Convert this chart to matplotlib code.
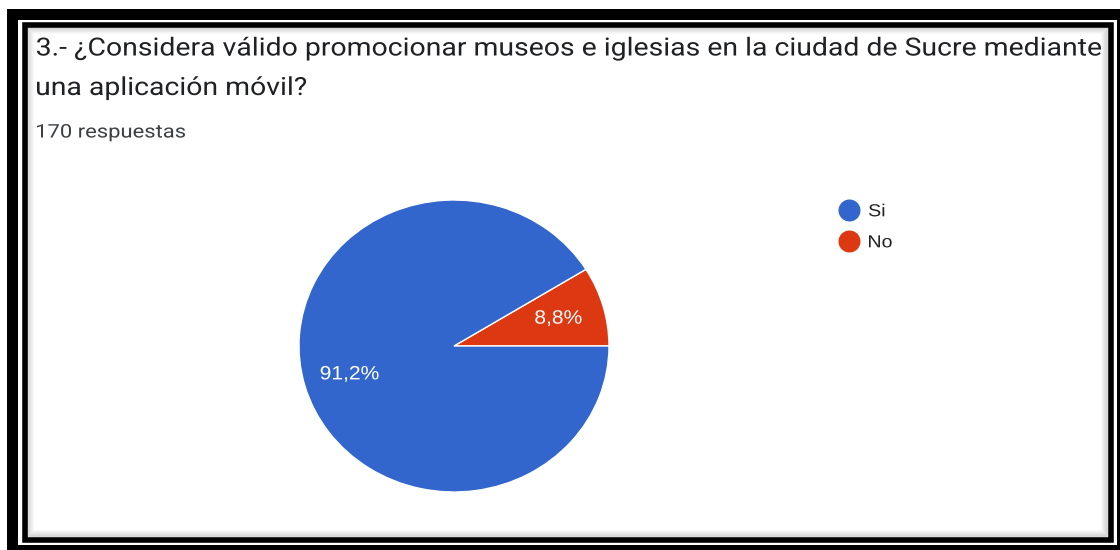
import matplotlib
matplotlib.use("Agg")
import numpy as np
import matplotlib.pyplot as plt
from matplotlib.patches import Rectangle, PathPatch
from matplotlib.textpath import TextPath
from matplotlib.font_manager import FontProperties
from matplotlib.transforms import Affine2D

plt.rcParams['font.family'] = ['Liberation Sans', 'DejaVu Sans']

# Daten der Umfrage
categories = ["Si", "No"]
values = [91.2, 8.8]
labels_pct = ["91,2%", "8,8%"]
colors = ["#3366cc", "#dc3912"]

title_lines = ["3.- ¿Considera válido promocionar museos e iglesias en la ciudad de Sucre mediante",
               "una aplicación móvil?"]
subtitle = "170 respuestas"

W, H = 1120, 550


# Text als Pfad, damit er horizontal gestreckt werden kann (Screenshot ist gedehnt)
def stretched_text(ax, x, y, s, size, family, color, sx=1.0, width=None,
                   ha="left", va="baseline"):
    tp = TextPath((0, 0), s, size=size, prop=FontProperties(family=family))
    ext = tp.get_extents()
    if width is not None:
        sx = width / ext.width
    if ha == "center":
        ox = x - (ext.x0 + ext.width / 2) * sx
    else:
        ox = x - ext.x0 * sx
    if va == "center":
        oy = y + (ext.y0 + ext.y1) / 2
    else:
        oy = y
    tr = Affine2D().scale(sx, -1).translate(ox, oy) + ax.transData
    ax.add_patch(PathPatch(tp, transform=tr, fc=color, lw=0))
    return sx


fig = plt.figure(figsize=(W / 100, H / 100), dpi=100)

# Kuchen (im Screenshot leicht in die Breite gezogen)
cx, cy, rx, ry = 454, 346, 155, 146
pie_ax = fig.add_axes([(cx - rx) / W, (H - cy - ry) / H, 2 * rx / W, 2 * ry / H])
wedges, texts = pie_ax.pie(
    values[::-1],
    colors=colors[::-1],
    startangle=0,
    counterclock=True,
    wedgeprops=dict(edgecolor="white", linewidth=1),
)
pie_ax.set_aspect("auto")
pie_ax.set_xlim(-1, 1)
pie_ax.set_ylim(-1, 1)

# Overlay-Achse in Pixelkoordinaten (y nach unten), liegt ueber dem Kuchen
bg = fig.add_axes([0, 0, 1, 1])
bg.set_xlim(0, W)
bg.set_ylim(H, 0)
bg.axis("off")

# dicker schwarzer Rahmen aussen
bg.add_patch(Rectangle((7, 9), W, 11, color="black", lw=0))
bg.add_patch(Rectangle((7, 9), 11, H, color="black", lw=0))
bg.add_patch(Rectangle((7, 545), W, 10, color="black", lw=0))
bg.add_patch(Rectangle((1117, 9), 10, H, color="black", lw=0))

# innerer duenner Rahmen
bg.add_patch(Rectangle((24.5, 24.5), 1086, 515, fill=False, ec="black", lw=4))

# Schatten innen
for i in range(1, 8):
    bg.add_patch(Rectangle((26 + i, 26 + i), 1082 - 2 * i, 511 - 2 * i,
                           fill=False, ec="black", lw=1, alpha=0.13 * (8 - i) / 7))

# Titel + Untertitel
sx_t = stretched_text(bg, 37, 55.5, title_lines[0], 25, "Roboto", "#202124", width=1064)
stretched_text(bg, 37, 95, title_lines[1], 25, "Roboto", "#202124", sx=sx_t)
stretched_text(bg, 37, 137.5, subtitle, 18.7, "Roboto", "#3c4043", width=148)

# Legende
for i, (cat, col) in enumerate(zip(categories, colors)):
    y = 210 + i * 31
    bg.scatter([849], [y], s=220, color=col, zorder=3)
    stretched_text(bg, 869, y + 6.3, cat, 17.4, "Liberation Sans", "#222222", sx=1.13)

# Prozent-Beschriftungen in den Segmenten
start = 0
for v, lab in zip(values[::-1], labels_pct[::-1]):
    mid = np.radians(start + v * 3.6 / 2)
    start += v * 3.6
    lx = cx + 0.70 * rx * np.cos(mid)
    ly = cy - 0.70 * ry * np.sin(mid)
    stretched_text(bg, lx, ly, lab, 19.3, "Liberation Sans", "white", sx=1.09,
                   ha="center", va="center")

fig.savefig("out.png", dpi=100)
